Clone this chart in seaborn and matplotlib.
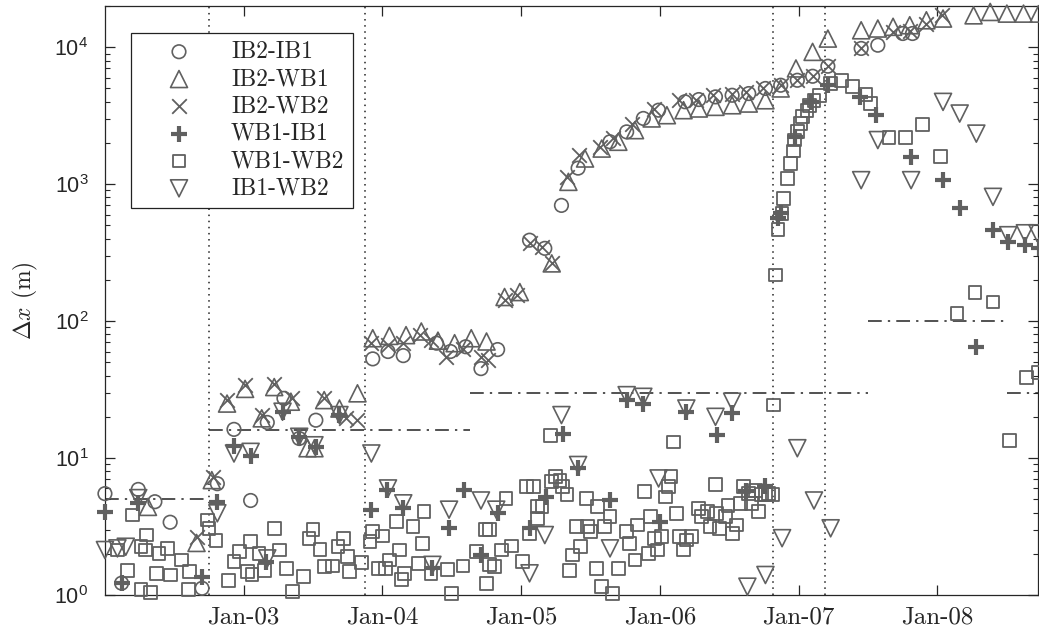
import numpy as np
import pandas as pd
import matplotlib
matplotlib.use("Agg")
import matplotlib.pyplot as plt
import matplotlib.dates as mdates
import seaborn as sns

# ---------------- data (decimal years, delta x in metres) ----------------
ib2_ib1_t = [2002.00, 2002.12, 2002.24, 2002.36, 2002.47, 2002.70, 2002.81, 2002.93, 2003.05,
             2003.17, 2003.29, 2003.40, 2003.52, 2003.93, 2004.04, 2004.15, 2004.39, 2004.49,
             2004.60, 2004.71, 2004.83, 2005.06, 2005.17, 2005.29, 2005.41, 2005.64, 2005.76,
             2005.88, 2005.99, 2006.18, 2006.28, 2006.40, 2006.52, 2006.64, 2006.76, 2006.87,
             2006.99, 2007.10, 2007.21, 2007.45, 2007.57, 2007.75, 2007.82]
ib2_ib1_v = [5.5, 1.22, 5.9, 4.8, 3.4, 1.12, 6.5, 16.2, 4.9,
             18.2, 27.3, 13.9, 18.9, 53, 60, 56, 69, 60,
             65, 45, 62, 390, 340, 700, 1310, 2040, 2410,
             3020, 3470, 4000, 4150, 4340, 4460, 4590, 5000, 5280,
             5740, 6140, 7270, 9800, 10350, 12600, 12600]

ib2_wb1_t = [2002.31, 2002.66, 2002.77, 2002.88, 2003.01, 2003.13, 2003.22, 2003.34, 2003.46,
             2003.51, 2003.58, 2003.69, 2003.82, 2003.93, 2004.05, 2004.17, 2004.28, 2004.40,
             2004.52, 2004.64, 2004.75, 2004.88, 2004.99, 2005.22, 2005.34, 2005.46, 2005.58,
             2005.70, 2005.82, 2005.94, 2006.05, 2006.17, 2006.28, 2006.40, 2006.52, 2006.64,
             2006.76, 2006.87, 2006.98, 2007.10, 2007.21, 2007.45, 2007.57, 2007.68, 2007.80,
             2007.92, 2008.04, 2008.26, 2008.38, 2008.50, 2008.62, 2008.73]
ib2_wb1_v = [4.4, 2.4, 6.9, 25, 32, 19.5, 33, 25.8, 11.8,
             11.8, 26.5, 23, 29.7, 75, 78, 79, 84, 72,
             69, 75, 71, 150, 163, 264, 1040, 1540, 1820,
             2040, 2480, 3020, 3190, 3470, 3570, 3670, 3770, 3880,
             4100, 5000, 7000, 9250, 11570, 13300, 13700, 14100, 14480,
             15740, 16200, 17100, 18100, 17600, 17600, 17600]

ib2_wb2_t = [2002.66, 2002.78, 2002.88, 2003.01, 2003.13, 2003.22, 2003.35, 2003.58, 2003.74,
             2003.82, 2003.92, 2004.04, 2004.15, 2004.27, 2004.35, 2004.46, 2004.58, 2004.71,
             2004.76, 2004.88, 2004.97, 2005.06, 2005.15, 2005.22, 2005.33, 2005.42, 2005.57,
             2005.66, 2005.80, 2005.96, 2006.14, 2006.26, 2006.38, 2006.52, 2006.62, 2006.74,
             2006.87, 2006.99, 2007.10, 2007.21, 2007.45, 2007.68, 2007.80, 2007.92, 2008.03]
ib2_wb2_v = [2.67, 7.3, 26.5, 34, 20.6, 35, 27.3, 27.3, 19.5,
             18.9, 69, 67, 69, 79, 73, 55, 63, 55,
             52, 142, 155, 370, 350, 264, 1130, 1630, 1870,
             2160, 2770, 3570, 4100, 4100, 4460, 4590, 4720, 5000,
             5280, 5740, 6140, 7270, 9800, 12940, 13100, 14900, 17100]

wb1_ib1_t = [2002.00, 2002.12, 2002.24, 2002.70, 2002.81, 2002.93, 2003.05, 2003.16, 2003.28,
             2003.40, 2003.52, 2003.69, 2003.92, 2004.03, 2004.15, 2004.36, 2004.48, 2004.59,
             2004.71, 2004.83, 2005.06, 2005.18, 2005.30, 2005.41, 2005.64, 2005.76, 2005.88,
             2006.00, 2006.19, 2006.41, 2006.52, 2006.62, 2006.76, 2006.85, 2006.87, 2006.97,
             2007.09, 2007.21, 2007.44, 2007.56, 2007.81, 2008.04, 2008.16, 2008.28, 2008.40,
             2008.51, 2008.63, 2008.73]
wb1_ib1_v = [4.06, 1.22, 4.67, 1.36, 4.8, 12.2, 10.3, 1.75, 21.8,
             14.3, 12.1, 20.6, 4.2, 5.8, 4.3, 1.57, 3.07, 5.8,
             1.96, 3.95, 3.07, 5.2, 15.1, 8.4, 4.9, 26.5, 25,
             3.43, 21.8, 14.7, 21.2, 5.7, 6.2, 570, 611, 2215,
             3990, 5280, 4340, 3190, 1580, 1070, 665, 65, 461,
             379, 359, 340]

wb1_wb2_t = [2002.09, 2002.20, 2002.16, 2002.26, 2002.30, 2002.29, 2002.26, 2002.33, 2002.37,
             2002.39, 2002.45, 2002.47, 2002.55, 2002.61, 2002.60, 2002.74, 2002.75, 2002.80,
             2002.89, 2002.93, 2002.97, 2003.03, 2003.06, 2003.05, 2003.11, 2003.15, 2003.22,
             2003.26, 2003.31, 2003.35, 2003.43, 2003.47, 2003.50, 2003.55, 2003.58, 2003.64,
             2003.68, 2003.72, 2003.75, 2003.76, 2003.85, 2003.91, 2003.93, 2003.97, 2004.00,
             2004.02, 2004.05, 2004.10, 2004.12, 2004.14, 2004.16, 2004.22, 2004.29, 2004.30,
             2004.26, 2004.35, 2004.47, 2004.50, 2004.58, 2004.68, 2004.74, 2004.77, 2004.75,
             2004.77, 2004.81, 2004.86, 2004.89, 2004.93, 2005.01, 2005.06, 2005.04, 2005.09,
             2005.12, 2005.12, 2005.15, 2005.21, 2005.25, 2005.22, 2005.28, 2005.30, 2005.33,
             2005.35, 2005.37, 2005.40, 2005.43, 2005.47, 2005.48, 2005.50, 2005.54, 2005.55,
             2005.58, 2005.60, 2005.64, 2005.66, 2005.70, 2005.76, 2005.78, 2005.82, 2005.84,
             2005.89, 2005.92, 2005.93, 2005.96, 2005.98, 2006.01, 2006.04, 2006.06, 2006.08,
             2006.10, 2006.12, 2006.14, 2006.17, 2006.19, 2006.23, 2006.28, 2006.30, 2006.34,
             2006.36, 2006.40, 2006.41, 2006.43, 2006.47, 2006.49, 2006.52, 2006.55, 2006.58,
             2006.60, 2006.64, 2006.66, 2006.69, 2006.71, 2006.73, 2006.76, 2006.78, 2006.81,
             2006.82, 2006.83, 2006.85, 2006.88, 2006.89, 2006.92, 2006.94, 2006.96, 2006.97,
             2006.99, 2007.01, 2007.03, 2007.06, 2007.08, 2007.11, 2007.15, 2007.23, 2007.31,
             2007.39, 2007.48, 2007.52, 2007.65, 2007.77, 2007.89, 2008.02, 2008.14, 2008.27,
             2008.40, 2008.52, 2008.64, 2008.73]
wb1_wb2_v = [2.13, 3.84, 1.52, 2.25, 2.74, 2.13, 1.09, 1.04, 1.44,
             2.01, 2.19, 1.40, 1.80, 1.48, 1.09, 3.53, 3.07, 2.49,
             1.27, 1.75, 2.07, 1.48, 1.42, 2.45, 2.01, 1.52, 3.07,
             2.13, 1.57, 1.06, 1.36, 2.6, 3.0, 2.16, 1.61, 1.63,
             2.25, 2.6, 1.90, 1.48, 1.72, 2.45, 2.9, 1.57, 2.7,
             1.57, 1.80, 3.43, 2.13, 1.29, 1.44, 3.15, 2.38, 4.06,
             1.70, 1.44, 1.54, 1.03, 1.63, 2.07, 3.0, 3.0, 1.22,
             1.66, 1.61, 2.13, 5.1, 2.28, 1.75, 2.82, 6.2, 6.2,
             4.4, 3.63, 4.4, 14.7, 7.3, 6.7, 6.9, 6.2, 5.4,
             1.52, 1.96, 3.15, 2.25, 5.1, 3.15, 2.9, 1.57, 4.4,
             1.15, 3.15, 3.73, 1.03, 1.57, 2.9, 2.38, 1.80, 3.24,
             5.7, 2.01, 3.73, 2.6, 2.13, 2.67, 5.2, 6.2, 7.3,
             13.1, 3.95, 2.67, 2.13, 2.52, 2.67, 4.3, 3.73, 4.06,
             3.15, 6.4, 3.95, 3.07, 3.73, 4.5, 2.82, 3.24, 4.67,
             6.2, 5.5, 4.67, 5.8, 4.06, 5.4, 5.4, 5.5, 5.4,
             24.4, 217, 467, 611, 786, 1100, 1420, 1750, 2100,
             2410, 2770, 3100, 3470, 3770, 4100, 4460, 5430, 5680,
             5190, 4540, 3880, 2190, 2190, 2740, 1600, 114, 161,
             138, 13.5, 39, 42]

ib1_wb2_t = [2002.00, 2002.09, 2002.15, 2002.24, 2002.81, 2002.93, 2003.05, 2003.17, 2003.28,
             2003.40, 2003.51, 2003.69, 2003.92, 2004.04, 2004.15, 2004.36, 2004.48, 2004.71,
             2004.82, 2005.06, 2005.17, 2005.29, 2005.41, 2005.64, 2005.76, 2005.88, 2005.99,
             2006.19, 2006.40, 2006.52, 2006.63, 2006.76, 2006.88, 2006.99, 2007.11, 2007.23,
             2007.45, 2007.57, 2007.81, 2008.04, 2008.16, 2008.28, 2008.40, 2008.51, 2008.63,
             2008.72]
ib1_wb2_v = [2.13, 2.19, 2.25, 5.1, 3.95, 10.8, 11.1, 1.85, 21.8,
             14.3, 12.4, 20.6, 10.8, 6.0, 4.67, 1.66, 4.2, 4.9,
             4.2, 1.44, 2.74, 20.6, 8.9, 2.19, 28.8, 28, 7.1,
             23, 20, 25.8, 1.15, 1.40, 2.6, 11.8, 4.9, 3.07,
             1070, 2100, 1070, 3990, 3280, 2340, 808, 424, 438,
             438]

# threshold segments (start, end, level) and event dates
seg_start = [2002.00, 2002.747, 2004.628, 2007.498, 2008.503]
seg_end = [2002.747, 2004.628, 2007.498, 2008.503, 2008.75]
seg_level = [5, 16, 30, 100, 30]
event_t = [2002.747, 2003.873, 2006.815, 2007.188]

tick_dates = ["2003-01-01", "2004-01-01", "2005-01-01", "2006-01-01", "2007-01-01", "2008-01-01"]


def to_date(years):
    years = np.asarray(years, dtype=float)
    return pd.Timestamp("2002-01-01") + pd.to_timedelta((years - 2002.0) * 365.25, unit="D")


# ---------------- style ----------------
sns.set_theme(style="ticks")
plt.rcParams["font.family"] = ["Liberation Sans", "DejaVu Sans"]
plt.rcParams["mathtext.fontset"] = "cm"
plt.rcParams["xtick.direction"] = "in"
plt.rcParams["ytick.direction"] = "in"
plt.rcParams["xtick.top"] = True
plt.rcParams["ytick.right"] = True
plt.rcParams["axes.edgecolor"] = "#262626"
plt.rcParams["axes.linewidth"] = 0.9

GRAY = "#606060"

fig = plt.figure(figsize=(10.39, 6.34), dpi=100)
ax = fig.add_axes([0.101, 0.0615, 0.898, 0.929])

series = [
    ("IB2-IB1", ib2_ib1_t, ib2_ib1_v, "o", 95, True, 1.2),
    ("IB2-WB1", ib2_wb1_t, ib2_wb1_v, "^", 150, True, 1.2),
    ("IB2-WB2", ib2_wb2_t, ib2_wb2_v, "x", 110, False, 1.3),
    ("WB1-IB1", wb1_ib1_t, wb1_ib1_v, "+", 125, False, 3.0),
    ("WB1-WB2", wb1_wb2_t, wb1_wb2_v, "s", 85, True, 1.3),
    ("IB1-WB2", ib1_wb2_t, ib1_wb2_v, "v", 150, True, 1.2),
]

for name, t, v, mk, size, open_marker, lw in series:
    if open_marker:
        sns.scatterplot(x=to_date(t), y=v, ax=ax, marker=mk, s=size, color=GRAY,
                        facecolor="none", edgecolor=GRAY, linewidth=lw,
                        label=name, clip_on=False, zorder=3)
    else:
        sns.scatterplot(x=to_date(t), y=v, ax=ax, marker=mk, s=size, color=GRAY,
                        linewidth=lw, label=name, clip_on=False, zorder=3)

# threshold lines and event markers
for a, b, lev in zip(seg_start, seg_end, seg_level):
    ax.plot(to_date([a, b]), [lev, lev], color="#222222", lw=1.1,
            linestyle=(0, (9, 4, 1.5, 4)), zorder=2)
for d in event_t:
    ax.axvline(to_date([d])[0], color="#222222", lw=1.1, linestyle=(0, (1, 3)), zorder=2)

ax.set_yscale("log")
ax.set_ylim(1, 2e4)
ax.set_xlim(pd.Timestamp("2002-01-01"), pd.Timestamp("2008-09-22"))
ax.set_xticks(pd.to_datetime(tick_dates))
ax.xaxis.set_major_formatter(mdates.DateFormatter("%b-%y"))
ax.xaxis.set_minor_locator(matplotlib.ticker.NullLocator())

ax.tick_params(axis="x", which="major", length=7, width=0.9, labelsize=18,
               pad=8, labelfontfamily="cmr10")
ax.tick_params(axis="y", which="major", length=7, width=0.9, labelsize=15.5, pad=12)
ax.tick_params(axis="y", which="minor", length=3.5, width=0.8)
for side in ["top", "right", "left", "bottom"]:
    ax.spines[side].set_visible(True)

ax.set_xlabel("")
ax.set_ylabel(r"$\Delta x$ (m)", fontsize=17, fontfamily="cmr10")
ax.yaxis.set_label_coords(-0.07, 0.5)

leg = ax.legend(loc="upper left", bbox_to_anchor=(0.0275, 0.955), borderaxespad=0,
                prop={"family": "cmr10", "size": 17}, frameon=True, fancybox=False,
                edgecolor="#222222", framealpha=1, handlelength=3.4, handletextpad=0.5,
                labelspacing=0.22, borderpad=0.35, scatterpoints=1)
leg.get_frame().set_linewidth(0.9)

fig.savefig("out.png", dpi=100)
